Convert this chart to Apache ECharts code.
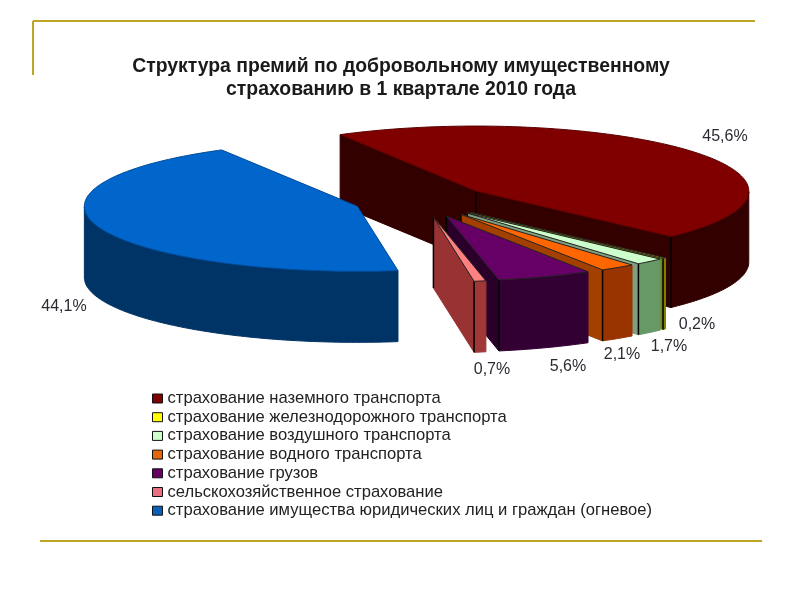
<!DOCTYPE html>
<html><head><meta charset="utf-8">
<script src="https://cdn.jsdelivr.net/npm/echarts@6/dist/echarts.min.js"></script>
<style>html,body{margin:0;padding:0;background:#fff}#c{width:800px;height:600px}</style>
</head><body><div id="c"></div>
<script>
const categories = [
  'страхование наземного транспорта',
  'страхование железнодорожного транспорта',
  'страхование воздушного транспорта',
  'страхование водного транспорта',
  'страхование грузов',
  'сельскохозяйственное страхование',
  'страхование имущества юридических лиц и граждан (огневое)'
];
const shares = [45.6, 0.2, 1.7, 2.1, 5.6, 0.7, 44.1];
const topColors = ['#800000','#FFFF00','#CCFFCC','#FF6600','#660066','#FF8080','#0066CC'];
const legendColors = ['#800000','#FFFF00','#CCFFCC','#E8660A','#660066','#E87080','#0B5FB5'];
const rimColors = ['#330000','#808000','#669966','#993300','#330033','#A03838','#003366'];
const radialColors = ['#330000','#808000','#7F9F7F','#A34000','#2A002A','#993333','#003366'];
const labelSpots = [[725,137],[697,325],[669,347],[622,355],[568,367],[492,370],[64,307]];

const cx = 421.8, cy = 201, rx = 273, ry = 65, depth = 71, explode = 0.25, startDeg = 240.2;
const rad = d => d * Math.PI / 180;
const total = shares.reduce((a, b) => a + b, 0);
const spans = [];
shares.reduce((acc, v) => { const s = v / total * 360; spans.push([acc, acc + s]); return acc + s; }, startDeg);

function poly(points, fill, stroke) {
  return { type: 'polygon', shape: { points }, style: { fill, stroke: stroke || fill, lineWidth: 1 } };
}
function vline(p) {
  return { type: 'line', shape: { x1: p[0], y1: p[1], x2: p[0], y2: p[1] + depth }, style: { stroke: '#000', lineWidth: 1.5 } };
}
function renderSlice(params) {
  const i = params.seriesIndex;
  const [a0, a1] = spans[i];
  const mid = rad((a0 + a1) / 2);
  const ax = cx + explode * rx * Math.cos(mid), ay = cy + explode * ry * Math.sin(mid);
  const at = d => [ax + rx * Math.cos(rad(d)), ay + ry * Math.sin(rad(d))];
  const down = p => [p[0], p[1] + depth];
  const apex = [ax, ay];
  const arc = [];
  const n = Math.max(2, Math.ceil(a1 - a0));
  for (let k = 0; k <= n; k++) arc.push(at(a0 + (a1 - a0) * k / n));
  const kids = [];
  const pA = at(a0), pB = at(a1);
  if (Math.cos(rad(a0)) < 0) kids.push(poly([apex, pA, down(pA), down(apex)], radialColors[i]));
  if (Math.cos(rad(a1)) > 0) kids.push(poly([apex, pB, down(pB), down(apex)], radialColors[i]), vline(apex));
  // outer rim: only the front half of the ellipse faces the viewer
  const front = arc.filter(p => p[1] >= ay - 0.01);
  if (front.length > 1) {
    kids.push(poly(front.concat(front.slice().reverse().map(down)), rimColors[i]));
    if (Math.cos(rad(a1)) > 0) kids.push(vline(pB));
  }
  kids.push(poly([apex].concat(arc), topColors[i], i === 0 ? '#5a0000' : (i === 6 ? '#004a99' : '#222')));
  const spot = labelSpots[i];
  kids.push({ type: 'text', style: {
    x: spot[0], y: spot[1], text: shares[i].toFixed(1).replace('.', ',') + '%',
    fill: '#2b2b33', font: '16px "Liberation Sans"', align: 'center', verticalAlign: 'middle' } });
  return { type: 'group', children: kids };
}

const chart = echarts.init(document.getElementById('c'), null, { renderer: 'canvas' });
chart.setOption({
  animation: false,
  backgroundColor: '#fff',
  title: {
    text: 'Структура премий по добровольному имущественному\nстрахованию в 1 квартале 2010 года',
    left: 396, top: 50, textAlign: 'center',
    textStyle: { fontFamily: 'Liberation Sans', fontSize: 19.4, fontWeight: 'bold', color: '#1a1a1a', lineHeight: 23 }
  },
  legend: {
    orient: 'vertical', left: 152, top: 390, padding: 0, itemWidth: 10, itemHeight: 9, itemGap: 1.7,
    icon: 'rect', selectedMode: false,
    textStyle: { fontFamily: 'Liberation Sans', fontSize: 16.6, color: '#222', lineHeight: 14 },
    itemStyle: { borderColor: '#111', borderWidth: 1 },
    data: categories
  },
  graphic: [
    { type: 'line', shape: { x1: 33, y1: 21, x2: 755, y2: 21 }, style: { stroke: '#BFA526', lineWidth: 2 } },
    { type: 'line', shape: { x1: 33, y1: 21, x2: 33, y2: 75 }, style: { stroke: '#BFA526', lineWidth: 2 } },
    { type: 'line', shape: { x1: 40, y1: 541, x2: 762, y2: 541 }, style: { stroke: '#BFA526', lineWidth: 2 } }
  ],
  series: categories.map((name, i) => ({
    type: 'custom', name, coordinateSystem: 'none',
    itemStyle: { color: legendColors[i] },
    renderItem: renderSlice,
    data: [shares[i]]
  }))
});
</script></body></html>
